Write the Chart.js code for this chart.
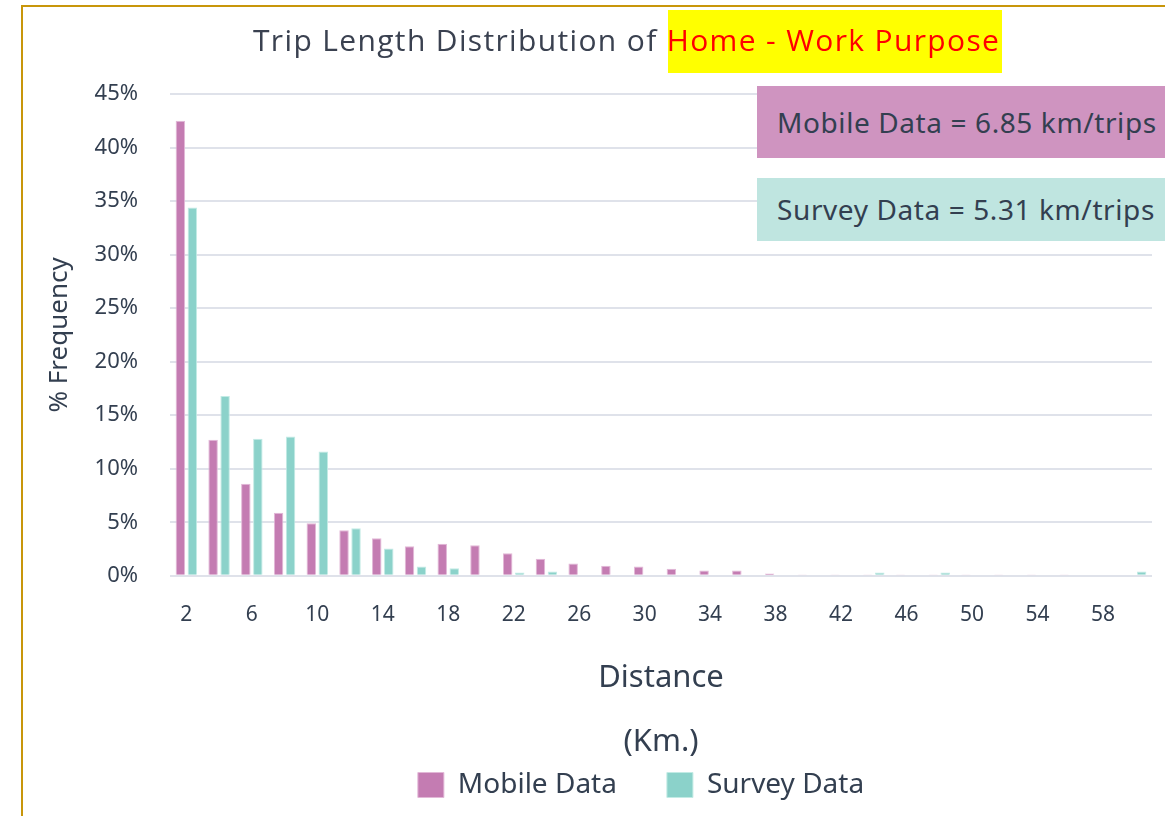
<!DOCTYPE html>
<html>
<head>
<meta charset="utf-8">
<script src="https://cdn.jsdelivr.net/npm/chart.js@4.4.1/dist/chart.umd.min.js"></script>
<style>
 body{margin:0;background:#fff;}
 #wrap{position:relative;width:1165px;height:816px;overflow:hidden;background:#fff;}
 .frame{position:absolute;left:21px;top:5px;width:1300px;height:900px;border-left:2px solid #c8960a;border-top:2px solid #c8960a;}
 canvas{position:absolute;left:0;top:0;}
 .hlbox{position:absolute;left:668px;top:10px;width:334px;height:63px;background:#ffff00;}
 #title{position:absolute;left:253px;top:20px;font:30px "Open Sans",sans-serif;letter-spacing:1.35px;line-height:40px;color:#3a4150;white-space:nowrap;}
 #title span{color:#ff0000;}
 .note{position:absolute;left:757px;width:420px;padding-left:20px;font:28px "Noto Sans",sans-serif;letter-spacing:0.6px;color:#333f50;white-space:nowrap;}
 .note.m{top:86px;height:72px;line-height:72px;background:#cf94c0;}
 .note.s{top:178px;height:63px;line-height:63px;background:#bfe5e0;}
</style>
</head>
<body>
<div id="wrap">
 <div class="frame"></div>
 <canvas id="c" width="1165" height="816"></canvas>
 <div class="hlbox"></div>
 <div id="title">Trip Length Distribution of <span>Home - Work Purpose</span></div>
 <div class="note m">Mobile Data = 6.85 km/trips</div>
 <div class="note s">Survey Data = 5.31 km/trips</div>
</div>
<script>
// DATA
const distances=[2,4,6,8,10,12,14,16,18,20,22,24,26,28,30,32,34,36,38,40,42,44,46,48,50,52,54,56,58,60];
const mobileData=[42.5,12.7,8.6,5.9,4.9,4.25,3.5,2.75,3.0,2.85,2.1,1.6,1.15,0.95,0.87,0.65,0.5,0.5,0.22,0.05,0.05,0.05,0.05,0.05,0.05,0.05,0.05,0.05,0,0];
const surveyData=[34.4,16.8,12.8,13.0,11.6,4.45,2.55,0.87,0.71,0,0.3,0.4,0,0,0,0,0.1,0,0.1,0,0.1,0.3,0.1,0.3,0,0,0,0.1,0,0.4];
const yTicks=[0,5,10,15,20,25,30,35,40,45];

const TEXT="#333f50";
const FONT="'Noto Sans', sans-serif";

// move legend to the right a bit (it is not centred on the canvas in the original)
const legendShift={
  id:"legendShift",
  afterLayout(chart){
    const lg=chart.legend;
    lg.left+=54; lg.right+=54;
  }
};

new Chart(document.getElementById("c"),{
  type:"bar",
  data:{
    labels:distances,
    datasets:[
      {label:"Mobile Data",data:mobileData,backgroundColor:"#c47cb2",borderColor:"#e2b8d7",borderWidth:1,
       categoryPercentage:0.733,barPercentage:0.79},
      {label:"Survey Data",data:surveyData,backgroundColor:"#8bd2ca",borderColor:"#c2ebe5",borderWidth:1,
       categoryPercentage:0.733,barPercentage:0.79}
    ]
  },
  options:{
    responsive:false,
    animation:false,
    layout:{padding:{left:22,right:13,top:94,bottom:7}},
    plugins:{
      legend:{
        position:"bottom",
        labels:{color:TEXT,font:{family:FONT,size:28},boxWidth:26,boxHeight:25,padding:50}
      },
      tooltip:{enabled:false}
    },
    scales:{
      x:{
        grid:{display:false,drawTicks:false},
        border:{display:false},
        ticks:{
          color:TEXT,font:{family:FONT,size:21},padding:27,autoSkip:false,maxRotation:0,
          callback:function(v,i){ return i%2===0 ? distances[i] : ""; }
        },
        title:{display:true,text:["Distance","(Km.)"],color:TEXT,
          font:{family:FONT,size:31,lineHeight:64/31},padding:{top:-9,bottom:-53}}
      },
      y:{
        min:0,max:45,
        afterFit(scale){ scale.width=148; },
        afterBuildTicks(scale){ scale.ticks=yTicks.map(v=>({value:v})); },
        grid:{color:"#dfe2ea",lineWidth:2,drawTicks:false},
        border:{display:false},
        ticks:{color:TEXT,font:{family:FONT,size:22},padding:32,callback:v=>v+"%"},
        title:{display:true,text:"% Frequency",color:TEXT,font:{family:FONT,size:26},padding:{top:22,bottom:0}}
      }
    }
  },
  plugins:[legendShift]
});
</script>
</body>
</html>
